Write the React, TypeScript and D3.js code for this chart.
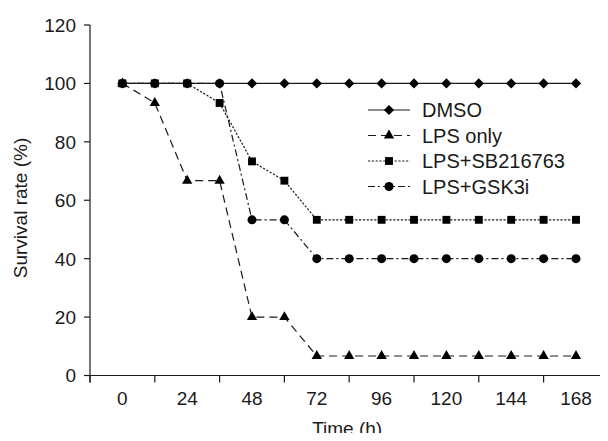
import React from "react";
import * as d3 from "d3";

const hours = [0, 12, 24, 36, 48, 60, 72, 84, 96, 108, 120, 132, 144, 156, 168];
const dmso = [100, 100, 100, 100, 100, 100, 100, 100, 100, 100, 100, 100, 100, 100, 100];
const lpsOnly = [100, 93.3, 66.7, 66.7, 20, 20, 6.67, 6.67, 6.67, 6.67, 6.67, 6.67, 6.67, 6.67, 6.67];
const lpsSb = [100, 100, 100, 93.3, 73.3, 66.7, 53.3, 53.3, 53.3, 53.3, 53.3, 53.3, 53.3, 53.3, 53.3];
const lpsGsk = [100, 100, 100, 100, 53.3, 53.3, 40, 40, 40, 40, 40, 40, 40, 40, 40];
const seriesNames = ["DMSO", "LPS only", "LPS+SB216763", "LPS+GSK3i"];
const xTickLabels = [0, 24, 48, 72, 96, 120, 144, 168];
const xTickMarks = [-12, 12, 36, 60, 84, 108, 132, 156, 180];
const yTicks = [0, 20, 40, 60, 80, 100, 120];

const W = 608;
const H = 441;
const FONT = "'Liberation Sans', Arial, Helvetica, sans-serif";
const INK = "#1a1a1a";

const styles = [
  { dash: "none", shape: "diamond" },
  { dash: "8,5", shape: "triangle" },
  { dash: "2.2,1.6", shape: "square" },
  { dash: "7,3,2,3", shape: "circle" },
];

function markerPath(shape: string) {
  if (shape === "diamond") return d3.symbol(d3.symbolSquare, 52)()!;
  if (shape === "triangle") return d3.symbol(d3.symbolTriangle, 46)()!;
  if (shape === "square") return d3.symbol(d3.symbolSquare, 62)()!;
  return d3.symbol(d3.symbolCircle, 64)()!;
}

export default function App() {
  const x = d3.scaleLinear().domain([-12, 180]).range([90, 608.4]);
  const y = d3.scaleLinear().domain([0, 120]).range([375.5, 25]);
  const data = [dmso, lpsOnly, lpsSb, lpsGsk];
  const line = d3
    .line<number>()
    .x((_, i) => x(hours[i]))
    .y((v) => y(v));

  const legendX0 = 368;
  const legendX1 = 410;
  const legendY = (i: number) => 110 + i * 25.5;

  return (
    <div style={{ margin: -8 }}>
      <svg width={W} height={H} style={{ display: "block", background: "#fff" }}>
        {/* axes */}
        <line x1={x(-12)} x2={x(-12)} y1={y(120)} y2={y(0) + 7} stroke={INK} strokeWidth={1.2} />
        <line x1={x(-12)} x2={607} y1={y(0)} y2={y(0)} stroke={INK} strokeWidth={1.2} />
        {yTicks.map((t) => (
          <g key={"y" + t}>
            <line x1={x(-12) - 6} x2={x(-12)} y1={y(t)} y2={y(t)} stroke={INK} strokeWidth={1.2} />
            <text
              x={x(-12) - 14}
              y={y(t)}
              dy="0.36em"
              textAnchor="end"
              fontFamily={FONT}
              fontSize={19}
              fill={INK}
            >
              {t}
            </text>
          </g>
        ))}
        {xTickMarks.map((t) => (
          <line
            key={"xt" + t}
            x1={Math.min(x(t), 607)}
            x2={Math.min(x(t), 607)}
            y1={y(0)}
            y2={y(0) + 7}
            stroke={INK}
            strokeWidth={1.2}
          />
        ))}
        {xTickLabels.map((t) => (
          <text
            key={"xl" + t}
            x={x(t)}
            y={405}
            textAnchor="middle"
            fontFamily={FONT}
            fontSize={19}
            fill={INK}
          >
            {t}
          </text>
        ))}
        <text x={x(84) - 2} y={435} textAnchor="middle" fontFamily={FONT} fontSize={19} fill={INK}>
          Time (h)
        </text>
        <text
          transform={`translate(27,${208}) rotate(-90)`}
          textAnchor="middle"
          fontFamily={FONT}
          fontSize={19}
          fill={INK}
        >
          Survival rate (%)
        </text>

        {/* series */}
        {data.map((vals, si) => (
          <g key={"s" + si}>
            <path
              d={line(vals)!}
              fill="none"
              stroke={INK}
              strokeWidth={1.2}
              strokeDasharray={styles[si].dash}
            />
            {vals.map((v, i) => (
              <path
                key={i}
                d={markerPath(styles[si].shape)}
                transform={`translate(${x(hours[i])},${y(v)})${styles[si].shape === "diamond" ? " rotate(45)" : ""}`}
                fill="#000"
              />
            ))}
          </g>
        ))}

        {/* legend */}
        {seriesNames.map((name, i) => (
          <g key={"l" + i}>
            <line
              x1={legendX0}
              x2={legendX1}
              y1={legendY(i)}
              y2={legendY(i)}
              stroke={INK}
              strokeWidth={1.2}
              strokeDasharray={styles[i].dash}
            />
            <path
              d={markerPath(styles[i].shape)}
              transform={`translate(${(legendX0 + legendX1) / 2},${legendY(i)})${styles[i].shape === "diamond" ? " rotate(45)" : ""}`}
              fill="#000"
            />
            <text
              x={422}
              y={legendY(i)}
              dy="0.36em"
              fontFamily={FONT}
              fontSize={20}
              fill={INK}
            >
              {name}
            </text>
          </g>
        ))}
      </svg>
    </div>
  );
}
